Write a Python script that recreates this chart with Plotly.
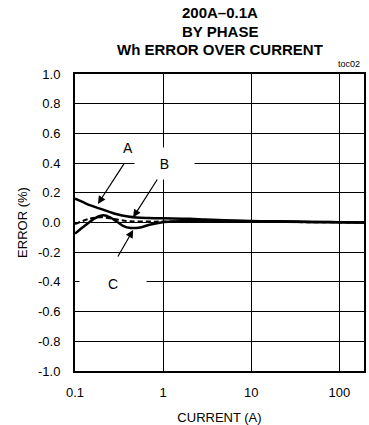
import numpy as np
import plotly.graph_objects as go

# ---- data ----
x_a = [0.1, 0.12, 0.15, 0.2, 0.25, 0.3, 0.4, 0.5, 0.7, 1, 2, 3, 5, 10, 20, 50, 100, 200]
y_a = [0.16, 0.14, 0.115, 0.09, 0.07, 0.055, 0.04, 0.033, 0.03, 0.028, 0.025, 0.02, 0.015, 0.01, 0.008, 0.004, 0.002, 0.0]

x_b = [0.1, 0.15, 0.2, 0.3, 0.43, 0.7, 1, 3, 10, 50, 200]
y_b = [-0.01, 0.027, 0.035, 0.02, 0.008, 0.006, 0.006, 0.006, 0.005, 0.002, 0.0]

x_c = [0.1, 0.13, 0.17, 0.21, 0.25, 0.3, 0.35, 0.43, 0.55, 0.7, 0.95, 1.5, 3, 10, 50, 200]
y_c = [-0.075, -0.02, 0.03, 0.048, 0.035, 0.005, -0.022, -0.037, -0.033, -0.015, 0.0, 0.008, 0.01, 0.008, 0.003, 0.0]

y_ticks = [1.0, 0.8, 0.6, 0.4, 0.2, 0.0, -0.2, -0.4, -0.6, -0.8, -1.0]
y_tick_labels = ["1.0", "0.8", "0.6", "0.4", "0.2", "0.0", "-0.2", "-0.4", "-0.6", "-0.8", "-1.0"]
x_ticks = [0.1, 1, 10, 100]
x_tick_labels = ["0.1", "1", "10", "100"]

title_lines = ["200A\u20130.1A", "BY PHASE", "Wh ERROR OVER CURRENT"]

# curve labels: name, label pos (x, y), arrow start (x, y), arrow tip (x, y)
labels = ["A", "B", "C"]
label_x = [0.40, 1.05, 0.27]
label_y = [0.50, 0.40, -0.41]
arrow_from_x = [0.37, 0.88, 0.30]
arrow_from_y = [0.407, 0.30, -0.239]
arrow_to_x = [0.182, 0.457, 0.457]
arrow_to_y = [0.125, 0.035, -0.05]

FONT = "Liberation Sans, Arial, sans-serif"

W, H = 369, 425
ML, MR, MT, MB = 75, 5, 74, 54
PW, PH = W - ML - MR, H - MT - MB


def px_to_paper(px, py):
    return (px - ML) / PW, (H - MB - py) / PH


fig = go.Figure()
fig.add_trace(go.Scatter(x=x_a, y=y_a, mode="lines", line=dict(color="black", width=2.5, shape="spline"), name="A"))
fig.add_trace(go.Scatter(x=x_c, y=y_c, mode="lines", line=dict(color="black", width=2.5, shape="spline"), name="C"))
fig.add_trace(go.Scatter(x=x_b, y=y_b, mode="lines", line=dict(color="black", width=2, dash="5px,3px", shape="spline"), name="B"))

annotations = []
# white boxes behind labels B and C (cut gridlines)
box_w = [0, 57, 64]
box_h = [0, 29, 29]
for i, t in enumerate(labels):
    ann = dict(x=np.log10(label_x[i]), y=label_y[i], xref="x", yref="y", text=t, showarrow=False,
               font=dict(family=FONT, size=14, color="black"))
    if box_w[i]:
        ann.update(bgcolor="white", width=box_w[i], height=box_h[i])
    annotations.append(ann)
for i in range(3):
    annotations.append(dict(x=np.log10(arrow_to_x[i]), y=arrow_to_y[i], xref="x", yref="y",
                            ax=np.log10(arrow_from_x[i]), ay=arrow_from_y[i], axref="x", ayref="y",
                            text="", showarrow=True, arrowhead=2, arrowsize=1.3, arrowwidth=1.2,
                            arrowcolor="black", standoff=0, startstandoff=0))
# title lines
for txt, yy in zip(title_lines, [13, 31, 49]):
    px, py = px_to_paper(219.5, yy)
    annotations.append(dict(x=px, y=py, xref="paper", yref="paper", text="<b>" + txt + "</b>",
                            showarrow=False, xanchor="center", yanchor="middle",
                            font=dict(family=FONT, size=15, color="black")))
px, py = px_to_paper(349, 64)
annotations.append(dict(x=px, y=py, xref="paper", yref="paper", text="toc02", showarrow=False,
                        xanchor="center", yanchor="middle", font=dict(family=FONT, size=9, color="black")))

fig.update_layout(
    width=W, height=H,
    margin=dict(l=ML, r=MR, t=MT, b=MB),
    paper_bgcolor="white", plot_bgcolor="white",
    showlegend=False,
    annotations=annotations,
    font=dict(family=FONT, color="black"),
)
fig.update_xaxes(type="log", range=[-1, 2.28], tickvals=x_ticks, ticktext=x_tick_labels,
                 showgrid=True, gridcolor="black", gridwidth=1, zeroline=False, automargin=False,
                 showline=True, linecolor="black", linewidth=2, mirror=True, ticks="",
                 ticklabelstandoff=8, tickfont=dict(family=FONT, size=13, color="black"),
                 title=dict(text="CURRENT (A)", font=dict(family=FONT, size=13, color="black"), standoff=14))
fig.update_yaxes(range=[-1, 1], tickvals=y_ticks, ticktext=y_tick_labels,
                 showgrid=True, gridcolor="black", gridwidth=1, zeroline=False, automargin=False,
                 showline=True, linecolor="black", linewidth=2, mirror=True, ticks="",
                 ticklabelstandoff=10, tickfont=dict(family=FONT, size=13, color="black"),
                 title=dict(text="ERROR (%)", font=dict(family=FONT, size=13, color="black"), standoff=7))

fig.write_html("out.html", config={"displayModeBar": False},
               post_script="document.body.style.margin='0px';")
